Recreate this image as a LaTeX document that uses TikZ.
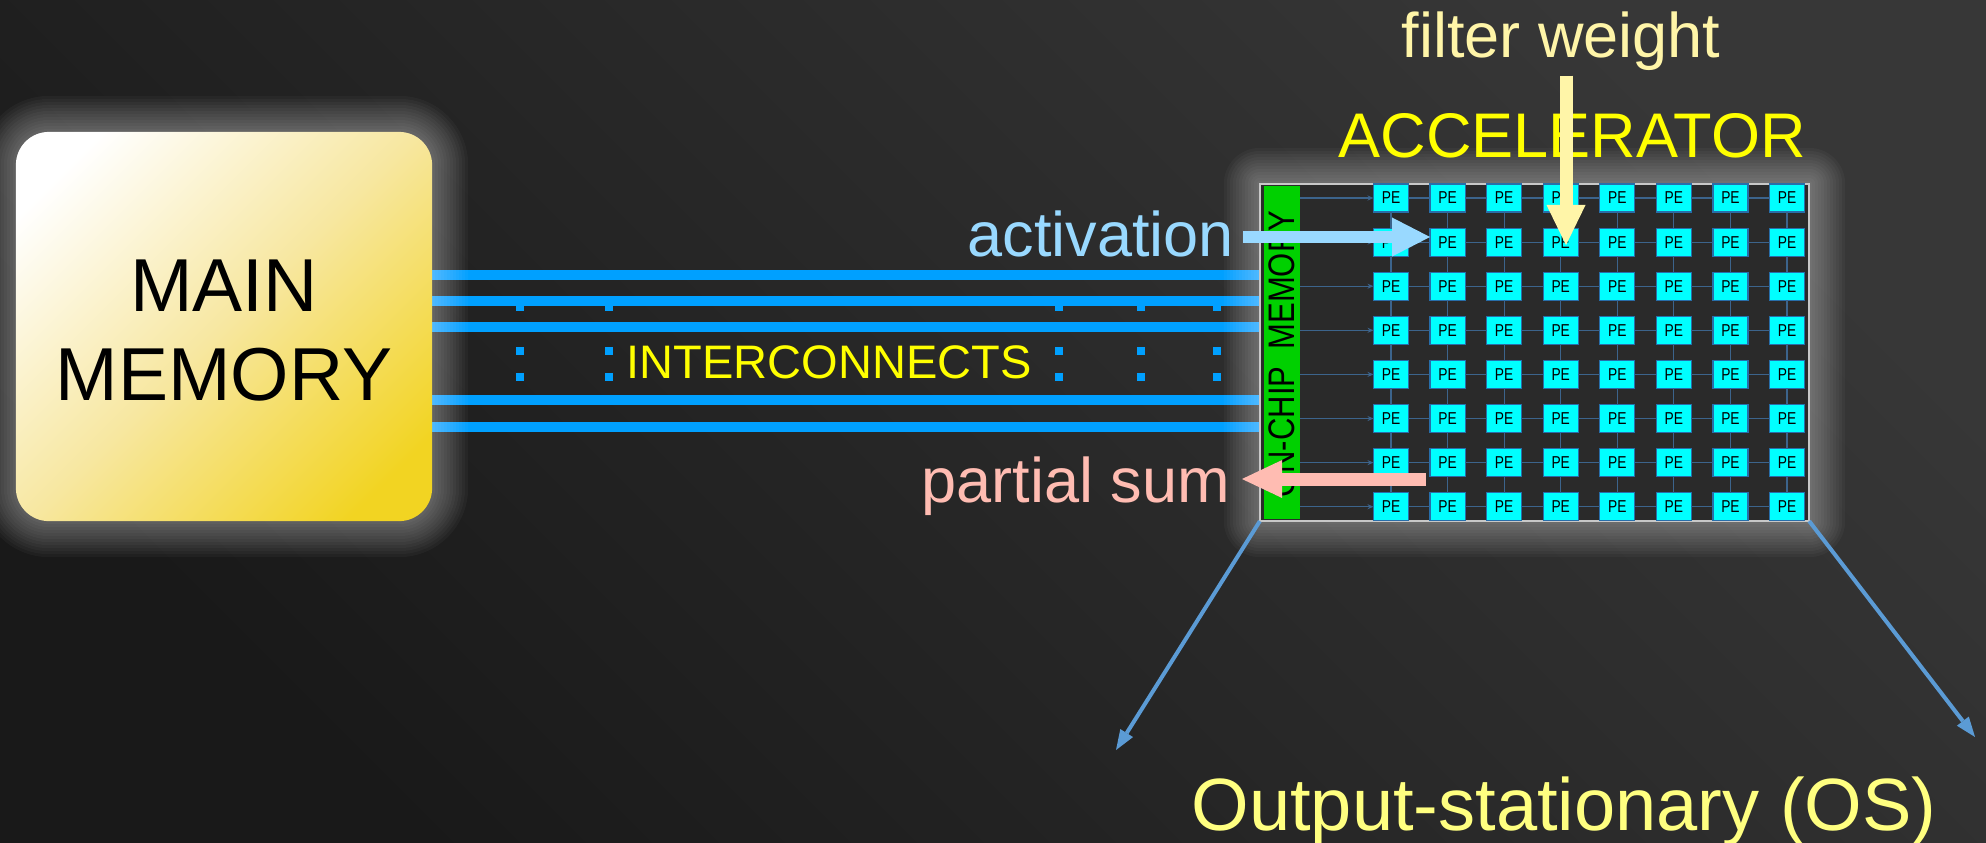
\documentclass[tikz,border=0pt]{standalone}
\usepackage{graphicx}
\usepackage{fontspec}
\setmainfont{Liberation Sans}
\usetikzlibrary{arrows.meta,calc}
\pgfdeclarelayer{bglayer}
\pgfdeclarelayer{buslayer}
\pgfdeclarelayer{halolayer}
\pgfsetlayers{bglayer,buslayer,halolayer,main}
\definecolor{bgtop}{RGB}{55,55,55}
\definecolor{bgbot}{RGB}{25,25,25}
\definecolor{mmgold}{RGB}{242,212,34}
\definecolor{mmmid}{RGB}{247,231,160}
\definecolor{buscol}{RGB}{0,160,255}
\definecolor{actcol}{RGB}{153,217,255}
\definecolor{pscol}{RGB}{255,188,178}
\definecolor{fwcol}{RGB}{255,245,168}
\definecolor{acccol}{RGB}{255,255,0}
\definecolor{oscol}{RGB}{255,255,128}
\definecolor{diagcol}{RGB}{91,155,213}
\definecolor{ocmgreen}{RGB}{0,208,0}
\definecolor{pefill}{RGB}{0,255,255}
\definecolor{pebord}{RGB}{40,110,170}
\definecolor{gridcol}{RGB}{60,100,140}
\definecolor{accbg}{RGB}{42,42,42}
\definecolor{accborder}{RGB}{200,200,200}
\pgfdeclareverticalshading{mmshade}{100bp}{color(0bp)=(mmgold); color(22bp)=(mmgold); color(50bp)=(mmmid); color(78bp)=(white); color(100bp)=(white)}
\newcommand\fsMain{\fontsize{21.34pt}{25.3pt}\selectfont}
\newcommand\fsLab{\fontsize{17.93pt}{21pt}\selectfont}
\newcommand\fsIC{\fontsize{13.37pt}{16pt}\selectfont}
\newcommand\fsOS{\fontsize{21.06pt}{25pt}\selectfont}
\newcommand\fsOCM{\fontsize{10.5pt}{12pt}\selectfont}
\newcommand\fsPE{\fontsize{4.9pt}{5.5pt}\selectfont}
\begin{document}
\begin{tikzpicture}[x=0.01cm,y=-0.01cm,
  lbl/.style={inner sep=0pt,outer sep=0pt},
  mmbox/.style={minimum width=4.16cm,minimum height=3.89cm,rounded corners=0.33cm,shading=mmshade,shading angle=45,inner sep=0pt,outer sep=0pt},
  accbox/.style={minimum width=5.49cm,minimum height=3.37cm,fill=accbg,draw=accborder,line width=0.02cm,inner sep=0pt,outer sep=0pt},
  ocmbox/.style={minimum width=0.36cm,minimum height=3.33cm,fill=ocmgreen,inner sep=0pt,outer sep=0pt},
  pebox/.style={minimum width=0.35cm,minimum height=0.28cm,fill=pefill,draw=pebord,line width=0.012cm,inner sep=0pt,outer sep=0pt,font=\fsPE,text=black},
  gridline/.style={draw=gridcol,line width=0.012cm},
  bus/.style={draw=buscol,line width=0.1cm},
  diag/.style={draw=diagcol,line width=0.04cm,-{Triangle[length=0.2cm,width=0.15cm,line width=0pt]}},
]
\begin{pgfonlayer}{bglayer}
\shade[top color=bgtop,bottom color=bgbot,shading angle=-45] (0,0) rectangle (1986,842);
\end{pgfonlayer}
\useasboundingbox (0,0) rectangle (1986,842);

% boxes
\node[mmbox,shade] (mm) at (224,326.5) {};
\node[lbl,anchor=base,font=\fsMain] (mainT) at (224,311) {MAIN};
\node[lbl,anchor=base,font=\fsMain] (memT) at (224,400) {MEMORY};
\node[accbox] (acc) at (1534.5,352.5) {};
\node[ocmbox] (ocm) at (1282,352.5) {};
\node[lbl,rotate=90,font=\fsOCM] (ocmT) at (1282,354) {\scalebox{0.84}[1]{ON-CHIP\ \ MEMORY}};

% PE grid
\foreach \r in {1,...,8}{
  \foreach \c in {1,...,8}{
    \node[pebox] (pe-\r-\c) at ({1391+(\c-1)*56.57},{198+(\r-1)*44.1}) {\scalebox{0.8}[1]{PE}};
  }
}
\foreach \r in {1,...,8}{
  \draw[gridline,-{Stealth[length=0.06cm,width=0.05cm]}] (ocm.east |- pe-\r-1.west) -- (pe-\r-1.west);
  \foreach \c [evaluate=\c as \cn using int(\c+1)] in {1,...,7}{
    \draw[gridline] (pe-\r-\c.east) -- (pe-\r-\cn.west);
  }
}
\foreach \c in {1,...,8}{
  \foreach \r [evaluate=\r as \rn using int(\r+1)] in {1,...,7}{
    \draw[gridline] (pe-\r-\c.south) -- (pe-\rn-\c.north);
  }
}

% interconnect bus
\foreach \yy [count=\k] in {275,301,327,400,427}{\coordinate (bus\k) at (0,\yy);}
\begin{pgfonlayer}{buslayer}
\foreach \xx in {520,609,1059,1141,1217}{
  \fill[buscol] (\xx-4,303) rectangle (\xx+4,311);
  \fill[buscol] (\xx-4,347) rectangle (\xx+4,355);
  \fill[buscol] (\xx-4,373) rectangle (\xx+4,381);
}
\foreach \k in {1,...,5}{\draw[bus] (mm.east |- bus\k) -- (acc.west |- bus\k);}
\end{pgfonlayer}

% halos
\begin{pgfonlayer}{halolayer}
\foreach \i [evaluate=\i as \d using 3*\i, evaluate=\i as \rr using 0.33+0.03*\i] in {1,...,12}{
  \fill[white,opacity=0.03,rounded corners=\rr cm] ($(mm.north west)+(-\d,-\d)$) rectangle ($(mm.south east)+(\d,\d)$);
}
\foreach \i [evaluate=\i as \d using 3*\i, evaluate=\i as \rr using 0.03*\i] in {1,...,12}{
  \fill[white,opacity=0.03,rounded corners=\rr cm] ($(acc.north west)+(-\d,-\d)$) rectangle ($(acc.south east)+(\d,\d)$);
}
\end{pgfonlayer}

% texts
\node[lbl,anchor=base,font=\fsIC,text=acccol] (icT) at (829,378) {INTERCONNECTS};
\node[lbl,anchor=base east,font=\fsLab,text=actcol] (act) at (1234,256) {activation};
\node[lbl,anchor=base east,font=\fsLab,text=pscol] (ps) at (1230,502) {partial sum};
\node[lbl,anchor=base,font=\fsLab,text=fwcol] (fw) at (1561,57) {filter weight};
\node[lbl,anchor=base,font=\fsLab,text=acccol] (accT) at (1572,157) {ACCELERATOR};
\node[lbl,anchor=base,font=\fsOS,text=oscol] (osT) at (1564,830) {Output-stationary (OS)};

% fat arrows
\coordinate (actTip) at (1430,237);
\draw[actcol,line width=0.12cm,shorten <=0.09cm,-{Triangle[length=0.38cm,width=0.39cm,line width=0pt]}] (act.east |- actTip) -- (actTip);
\coordinate (psTail) at (1426,479);
\draw[pscol,line width=0.13cm,shorten >=0.12cm,-{Triangle[length=0.4cm,width=0.38cm,line width=0pt]}] (psTail) -- (ps.east |- psTail);
\coordinate (fwTip) at (1566,245);
\draw[fwcol,line width=0.13cm,shorten <=0.056cm,-{Triangle[length=0.4cm,width=0.39cm,line width=0pt]}] (fw.south -| fwTip) -- (fwTip);

% zoom-out arrows
\coordinate (tipL) at (1116,750);
\coordinate (tipR) at (1975,737);
\draw[diag] (acc.south west) -- (tipL);
\draw[diag] (acc.south east) -- (tipR);
\end{tikzpicture}
\end{document}
